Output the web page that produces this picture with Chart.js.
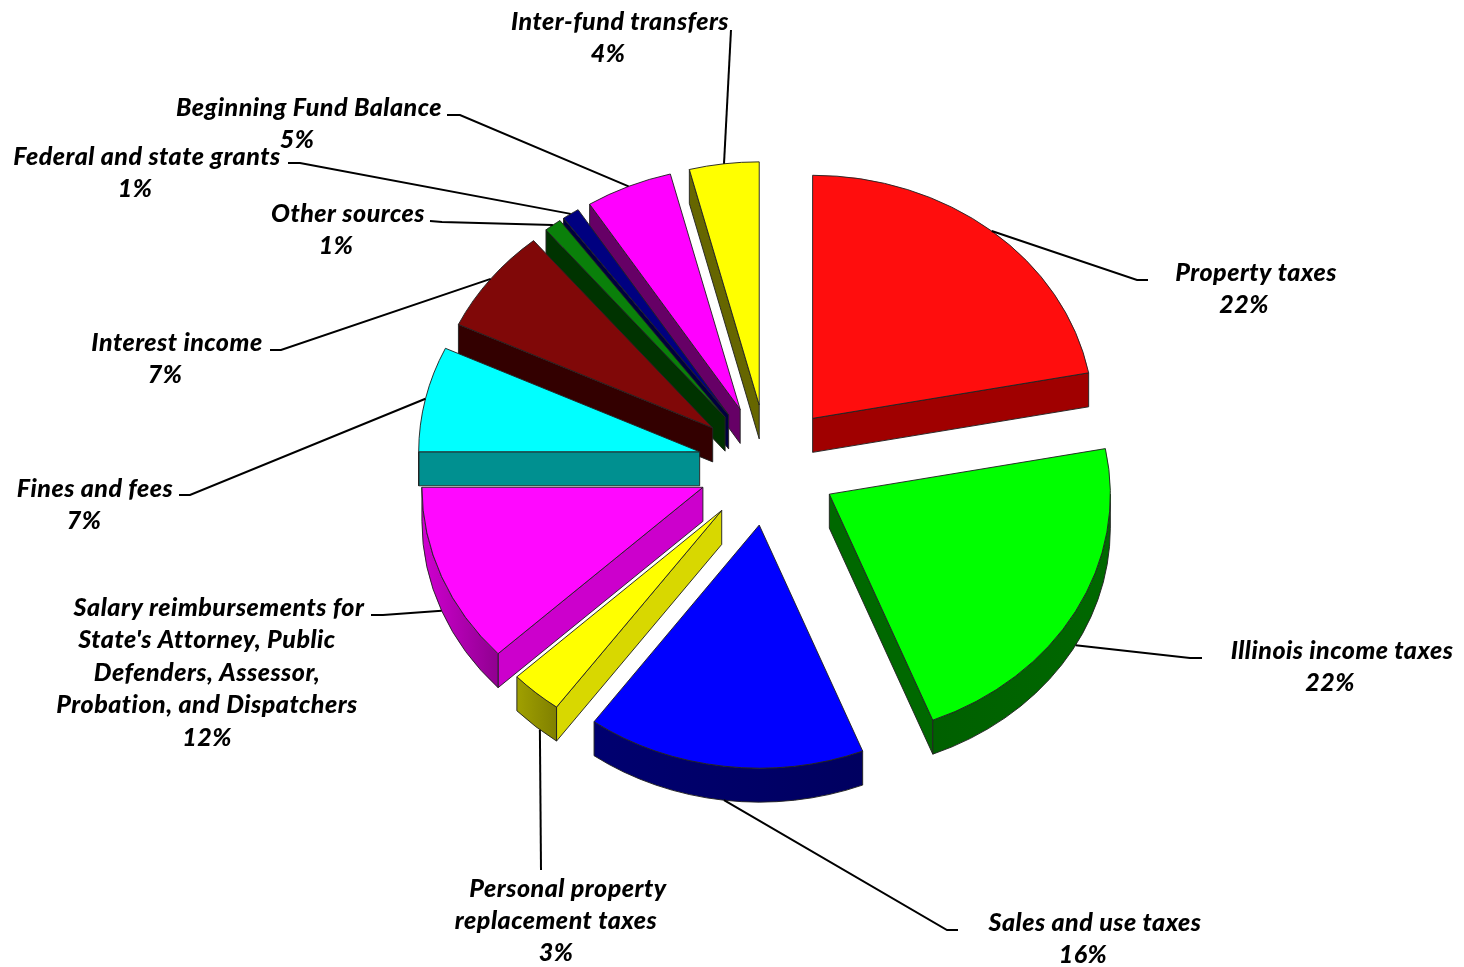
<!DOCTYPE html>
<html>
<head>
<meta charset="utf-8">
<title>Revenue sources</title>
<script src="https://cdn.jsdelivr.net/npm/chart.js@4"></script>
<style>
  html, body { margin: 0; padding: 0; background: #fff; }
  #wrap { width: 1464px; height: 967px; position: relative; }
</style>
</head>
<body>
<div id="wrap"><canvas id="revenueChart"></canvas></div>
<script>
const categories = [
    'Property taxes',
    'Illinois income taxes',
    'Sales and use taxes',
    'Personal property replacement taxes',
    "Salary reimbursements for State's Attorney, Public Defenders, Assessor, Probation, and Dispatchers",
    'Fines and fees',
    'Interest income',
    'Other sources',
    'Federal and state grants',
    'Beginning Fund Balance',
    'Inter-fund transfers'
];
const shares = [22, 22, 16, 3, 12, 7, 7, 1, 1, 5, 4];

const topColors = ['#ff0d0d', '#00ff00', '#0000ff', '#ffff00', '#ff08ff', '#00ffff', '#800808', '#0a800a', '#000080', '#ff00ff', '#ffff00'];
const wallColors = ['#a00000', '#006800', '#000070', '#d8d800', '#cc00cc', '#009090', '#330000', '#003300', '#000040', '#660066', '#666600'];
const rimLeft = ['#a00000', '#006000', '#000070', '#a0a000', '#d000d0', '#009090', '#330000', '#003300', '#000040', '#660066', '#666600'];
const rimRight = ['#a00000', '#006800', '#000060', '#808000', '#900090', '#009090', '#330000', '#003300', '#000040', '#660066', '#666600'];

// label lines: [text, centre x, centre y]; the share goes underneath at shareAnchors
const labelLines = [
    [['Property taxes', 1256, 273]],
    [['Illinois income taxes', 1342, 651]],
    [['Sales and use taxes', 1095, 923]],
    [['Personal property', 568, 889], ['replacement taxes', 556, 921]],
    [['Salary reimbursements for', 219, 608], ["State's Attorney, Public", 207, 640], ['Defenders, Assessor,', 207, 673], ['Probation, and Dispatchers', 207, 705]],
    [['Fines and fees', 95, 489]],
    [['Interest income', 177, 343]],
    [['Other sources', 348, 214]],
    [['Federal and state grants', 147, 157]],
    [['Beginning Fund Balance', 309, 108]],
    [['Inter-fund transfers', 620, 22]]
];
const shareAnchors = [[1244, 305], [1330, 683], [1083, 955], [556, 953], [207, 738], [84, 521], [165, 375], [336, 246], [135, 189], [297, 140], [608, 54]];

// leader lines run from the slice rim to these points next to the label
const leaderEnds = [
    [[1137, 280], [1148, 280]],
    [[1190, 658], [1202, 658]],
    [[947, 930], [958, 930]],
    [[541, 870]],
    [[383, 615], [371, 615]],
    [[190, 495], [179, 495]],
    [[281, 350], [270, 350]],
    [[442, 222], [430, 221]],
    [[300, 163], [288, 163]],
    [[460, 115], [447, 115]],
    [[731, 30]]
];
// where along the slice's rim each leader starts, 0.5 is the middle
const leaderAt = [0.5, 0.5, 0.5, 0.4, 0.5, 0.5, 0.5, 0.5, 0.5, 0.5, 0.5];

const tilt = 0.865;     // vertical squash of the pie
const depth = 34;       // wall height in px
const explode = 70;     // every slice is pulled out by this much

function squash(ctx, arc) {
    ctx.translate(arc.x, arc.y);
    ctx.scale(1, tilt);
    ctx.translate(-arc.x, -arc.y);
}

function fillStroke(ctx, color) {
    ctx.fillStyle = color;
    ctx.fill();
    ctx.stroke();
}

function drawRadialWall(ctx, arc, angle, color) {
    const d = depth / tilt;
    const px = arc.x + Math.cos(angle) * arc.outerRadius;
    const py = arc.y + Math.sin(angle) * arc.outerRadius;
    ctx.beginPath();
    ctx.moveTo(arc.x, arc.y);
    ctx.lineTo(px, py);
    ctx.lineTo(px, py + d);
    ctx.lineTo(arc.x, arc.y + d);
    ctx.closePath();
    fillStroke(ctx, color);
}

function drawSlice(ctx, arc, i) {
    const mid = (arc.startAngle + arc.endAngle) / 2;
    ctx.save();
    squash(ctx, arc);
    ctx.translate(Math.cos(mid) * explode, Math.sin(mid) * explode);
    ctx.strokeStyle = '#222';
    ctx.lineWidth = 1;
    ctx.lineJoin = 'round';

    if (Math.cos(arc.startAngle) < 0) drawRadialWall(ctx, arc, arc.startAngle, wallColors[i]);
    if (Math.cos(arc.endAngle) > 0) drawRadialWall(ctx, arc, arc.endAngle, wallColors[i]);

    // the rim only shows on the near half of the pie
    const from = Math.max(arc.startAngle, 0);
    const to = Math.min(arc.endAngle, Math.PI);
    if (from < to) {
        const shade = ctx.createLinearGradient(arc.x + Math.cos(to) * arc.outerRadius, 0, arc.x + Math.cos(from) * arc.outerRadius, 0);
        shade.addColorStop(0, rimLeft[i]);
        shade.addColorStop(1, rimRight[i]);
        ctx.beginPath();
        ctx.arc(arc.x, arc.y, arc.outerRadius, from, to);
        ctx.arc(arc.x, arc.y + depth / tilt, arc.outerRadius, to, from, true);
        ctx.closePath();
        fillStroke(ctx, shade);
    }
    arc.draw(ctx);
    ctx.restore();
}

const pie3d = {
    id: 'pie3d',
    beforeDatasetDraw(chart, args) {
        const arcs = args.meta.data;
        const order = arcs.map((arc, i) => i).sort((a, b) => {
            const ma = (arcs[a].startAngle + arcs[a].endAngle) / 2;
            const mb = (arcs[b].startAngle + arcs[b].endAngle) / 2;
            return Math.sin(ma) - Math.sin(mb);
        });
        order.forEach(i => drawSlice(chart.ctx, arcs[i], i));
        return false;
    },
    afterDraw(chart) {
        const ctx = chart.ctx;
        const arcs = chart.getDatasetMeta(0).data;
        ctx.save();
        ctx.strokeStyle = '#000';
        ctx.lineWidth = 2;
        arcs.forEach((arc, i) => {
            const mid = (arc.startAngle + arc.endAngle) / 2;
            const at = arc.startAngle + (arc.endAngle - arc.startAngle) * leaderAt[i];
            const r = arc.outerRadius;
            const sx = arc.x + Math.cos(mid) * explode + Math.cos(at) * r;
            const sy = arc.y + (Math.sin(mid) * explode + Math.sin(at) * r) * tilt + (Math.sin(at) > 0 ? depth : 0);
            ctx.beginPath();
            ctx.moveTo(sx, sy);
            leaderEnds[i].forEach(p => ctx.lineTo(p[0], p[1]));
            ctx.stroke();
        });

        ctx.fillStyle = '#000';
        ctx.font = 'italic 900 25px Lato';
        ctx.letterSpacing = '0.5px';
        ctx.textAlign = 'center';
        ctx.textBaseline = 'middle';
        labelLines.forEach((lines, i) => {
            lines.forEach(l => ctx.fillText(l[0], l[1], l[2]));
            ctx.fillText(shares[i] + '%', shareAnchors[i][0], shareAnchors[i][1]);
        });
        ctx.restore();
    }
};

new Chart(document.getElementById('revenueChart').getContext('2d'), {
    type: 'pie',
    data: {
        labels: categories,
        datasets: [{
            data: shares,
            backgroundColor: topColors,
            borderColor: '#222',
            borderWidth: 1
        }]
    },
    options: {
        responsive: true,
        maintainAspectRatio: false,
        animation: false,
        radius: 281,
        layout: { padding: { left: 72, bottom: 37 } },
        plugins: {
            legend: { display: false },
            tooltip: { enabled: false }
        }
    },
    plugins: [pie3d]
});
</script>
</body>
</html>
